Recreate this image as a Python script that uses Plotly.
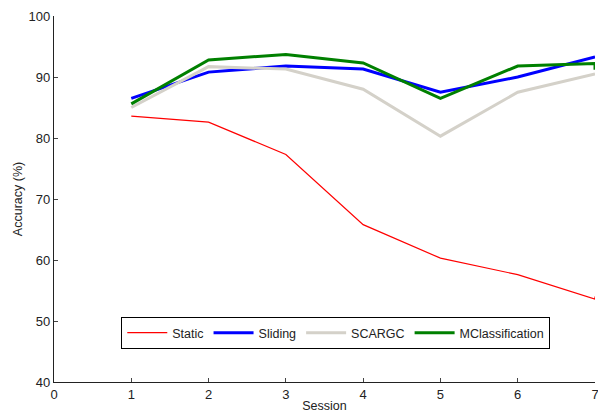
import plotly.graph_objects as go

# Accuracy per session for each classifier (last point repeated at session 7)
sessions = [1, 2, 3, 4, 5, 6, 7, 7]
static = [83.6, 82.6, 77.3, 65.8, 60.3, 57.6, 53.6, 54.0]
sliding = [86.5, 90.8, 91.8, 91.3, 87.5, 90.0, 93.3, 93.3]
scargc = [85.0, 91.7, 91.3, 88.0, 80.3, 87.5, 90.5, 90.5]
mclass = [85.6, 92.8, 93.7, 92.3, 86.5, 91.8, 92.2, 91.2]

x_ticks = [0, 1, 2, 3, 4, 5, 6, 7]
y_ticks = [40, 50, 60, 70, 80, 90, 100]

series = [
    ("Static", static, "#ff0000", 1.2),
    ("Sliding", sliding, "#0000ff", 3),
    ("SCARGC", scargc, "#d4d1c9", 3),
    ("MClassification", mclass, "#008000", 3),
]

fig = go.Figure()
for name, vals, color, width in series:
    fig.add_trace(go.Scatter(x=sessions, y=vals, mode="lines", name=name,
                             line=dict(color=color, width=width)))

axis_common = dict(showline=True, linecolor="#222", linewidth=1.2, ticks="inside",
                   ticklen=4, tickcolor="#444", showgrid=False, zeroline=False,
                   tickfont=dict(size=13, color="#222"), mirror=False,
                   automargin=False, ticklabeloverflow="allow")

fig.update_layout(
    width=598, height=413,
    margin=dict(l=54, r=3, t=16, b=31),
    paper_bgcolor="white", plot_bgcolor="white",
    font=dict(family="Liberation Sans, Arial, sans-serif", color="#222"),
    xaxis=dict(range=[0, 7], tickvals=x_ticks, **axis_common,
               title=dict(text="Session", font=dict(size=12.5), standoff=7)),
    yaxis=dict(range=[40, 100], tickvals=y_ticks, **axis_common,
               title=dict(text="Accuracy (%)", font=dict(size=12.5), standoff=3)),
    legend=dict(orientation="h", x=0.124, y=0.178, xanchor="left", yanchor="top",
                bordercolor="black", borderwidth=1.2, bgcolor="white",
                itemwidth=40,
                font=dict(size=12.5, color="#222"), tracegroupgap=0),
    showlegend=True,
)

fig.write_html("out.html")
